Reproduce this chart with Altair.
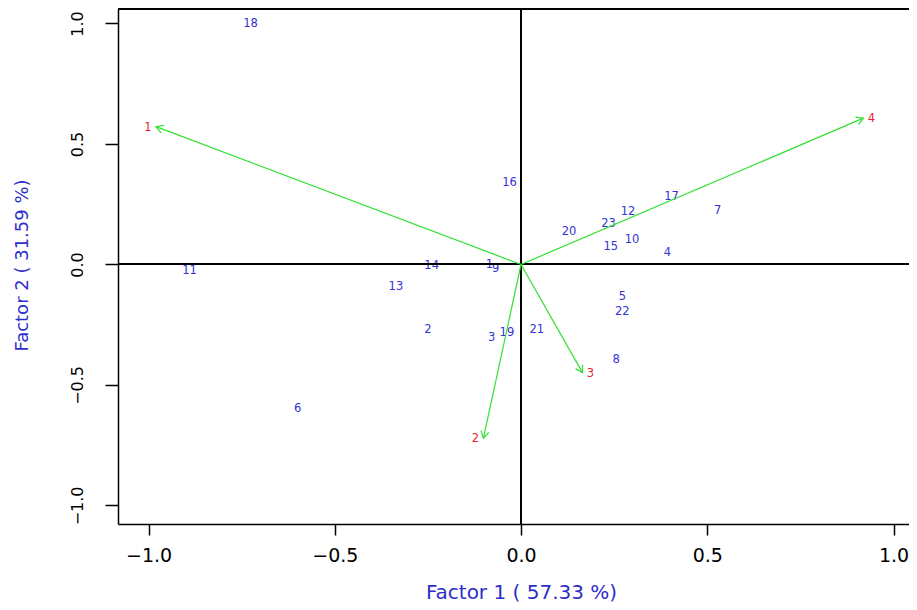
import math
import altair as alt
import pandas as pd

# ---- data ----
obs_labels = [str(i) for i in range(1, 24)]
obs_x = [-0.085, -0.250, -0.079, 0.393, 0.272, -0.600, 0.528, 0.255, -0.068, 0.298,
         -0.890, 0.287, -0.336, -0.240, 0.241, -0.031, 0.404, -0.726, -0.038, 0.129,
         0.042, 0.272, 0.235]
obs_y = [-0.002, -0.272, -0.304, 0.046, -0.134, -0.600, 0.223, -0.396, -0.020, 0.102,
         -0.027, 0.217, -0.095, -0.005, 0.074, 0.338, 0.281, 0.997, -0.286, 0.134,
         -0.272, -0.198, 0.167]

var_labels = ["1", "2", "3", "4"]
var_x = [-0.980, -0.101, 0.165, 0.919]
var_y = [0.572, -0.721, -0.449, 0.607]

x_ticks = [-1.0, -0.5, 0.0, 0.5, 1.0]
y_ticks = [-1.0, -0.5, 0.0, 0.5, 1.0]
x_title = "Factor 1 ( 57.33 %)"
y_title = "Factor 2 ( 31.59 %)"

# ---- layout / style ----
W, H = 791, 515
XMIN = -1.082
XMAX = XMIN + W / 372.5
YMIN, YMAX = -1.077, 1.060
FONT = "DejaVu Sans"
BLUE = "#3434d2"
TITLE_BLUE = "#2e2ec8"
RED = "#e8242e"
GREEN = "#33e033"

sx = W / (XMAX - XMIN)
sy = H / (YMAX - YMIN)

obs = pd.DataFrame({"label": obs_labels, "x": obs_x, "y": obs_y})
var = pd.DataFrame({"label": var_labels, "x": var_x, "y": var_y})
var["x0"] = 0.0
var["y0"] = 0.0
var["angle"] = [(math.degrees(math.atan2(a * sx, b * sy)) + 360) % 360 for a, b in zip(var_x, var_y)]

xs = alt.Scale(domain=[XMIN, XMAX], nice=False, zero=False)
ys = alt.Scale(domain=[YMIN, YMAX], nice=False, zero=False)

x_axis = alt.Axis(values=x_ticks, format=".1f", title=x_title, grid=False,
                  domainColor="black", domainWidth=1.5, tickColor="black", tickWidth=1.5,
                  tickSize=11, labelPadding=11, labelFont=FONT, labelFontSize=19,
                  labelColor="black", labelFlush=False, labelOverlap=False,
                  titleFont=FONT, titleFontSize=20, titleFontWeight="normal",
                  titleColor=TITLE_BLUE, titleX=403, titleY=74, titleAlign="center",
                  titleBaseline="alphabetic")
y_axis = alt.Axis(values=y_ticks, format=".1f", title=y_title, grid=False,
                  domainColor="black", domainWidth=1.5, tickColor="black", tickWidth=1.5,
                  tickSize=13, labelPadding=23, labelFont=FONT, labelFontSize=16,
                  labelColor="black", labelFlush=False, labelOverlap=False,
                  labelAngle=270, labelAlign="center", labelBaseline="alphabetic",
                  titleFont=FONT, titleFontSize=18, titleFontWeight="normal",
                  titleColor=TITLE_BLUE, titleAngle=270, titleX=-91, titleY=256,
                  titleAlign="center", titleBaseline="alphabetic")


def X(field):
    return alt.X(field, scale=xs, axis=x_axis)


def Y(field):
    return alt.Y(field, scale=ys, axis=y_axis)


base_obs = alt.Chart(obs)

points = base_obs.mark_text(font=FONT, fontSize=11.5, color=BLUE, align="center",
                            baseline="middle").encode(
    x=X("x:Q"), y=Y("y:Q"), text="label:N",
)

zero_h = base_obs.mark_rule(color="black", strokeWidth=1.2).encode(
    y=alt.datum(0.0, scale=ys, axis=y_axis)
)
zero_v = base_obs.mark_rule(color="black", strokeWidth=1.2).encode(
    x=alt.datum(0.0, scale=xs, axis=x_axis)
)
top_border = base_obs.mark_rule(color="black", strokeWidth=1.5).encode(
    y=alt.datum(YMAX, scale=ys, axis=y_axis)
)

base_var = alt.Chart(var)
shafts = base_var.mark_rule(color=GREEN, strokeWidth=1.2).encode(
    x=X("x0:Q"), y=Y("y0:Q"), x2="x:Q", y2="y:Q",
)
heads = base_var.mark_point(shape="M -0.5 0.866 L 0 0 L 0.5 0.866", filled=False,
                            color=GREEN, strokeWidth=1.2, size=256, opacity=1).encode(
    x=X("x:Q"), y=Y("y:Q"),
    angle=alt.Angle("angle:Q", scale=None),
)
vlab_left = base_var.transform_filter("datum.x < 0").mark_text(
    font=FONT, fontSize=11.5, color=RED, align="center", baseline="middle", dx=-8, dy=1
).encode(x=X("x:Q"), y=Y("y:Q"), text="label:N")
vlab_right = base_var.transform_filter("datum.x >= 0").mark_text(
    font=FONT, fontSize=11.5, color=RED, align="center", baseline="middle", dx=8, dy=1
).encode(x=X("x:Q"), y=Y("y:Q"), text="label:N")

chart = alt.layer(points, zero_h, zero_v, top_border, shafts, heads, vlab_left, vlab_right).properties(
    width=W, height=H,
    autosize=alt.AutoSizeParams(type="none"),
    padding={"left": 110, "top": 1, "right": 0, "bottom": 78},
    background="white",
).configure(font=FONT).configure_view(stroke=None)

chart.save("out.html", embed_options={"renderer": "svg", "actions": False})
